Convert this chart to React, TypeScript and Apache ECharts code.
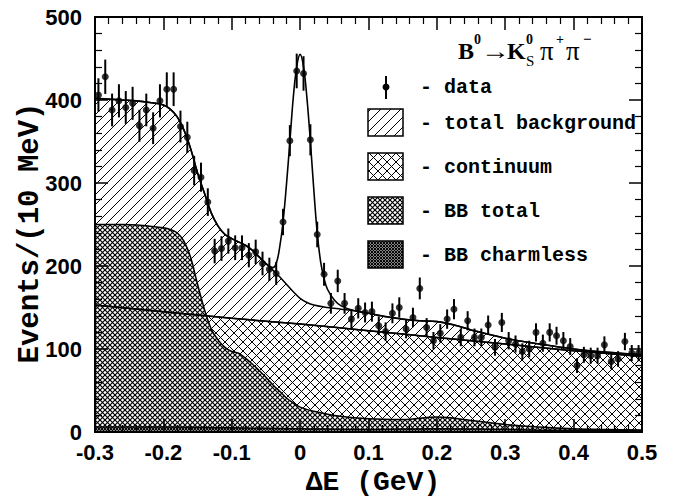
import React, { useEffect, useRef } from 'react';
import * as echarts from 'echarts';

// Histogram: 80 bins of 10 MeV from -0.3 to 0.5 GeV
const binLow = -0.3;
const binWidth = 0.01;
const counts = [
  406, 428, 388, 399, 391, 396, 369, 388, 366, 399,
  413, 413, 368, 355, 315, 307, 277, 218, 221, 230,
  222, 222, 213, 217, 203, 196, 191, 253, 351, 435,
  432, 352, 238, 190, 155, 182, 155, 136, 149, 144,
  145, 128, 121, 143, 150, 124, 138, 173, 126, 110,
  119, 136, 148, 114, 134, 114, 114, 129, 102, 132,
  110, 106, 97, 100, 120, 107, 120, 116, 110, 103,
  80, 93, 92, 92, 105, 85, 88, 109, 95, 95,
];

// Total background curve
const bkgX = [-0.3, -0.28, -0.26, -0.24, -0.22, -0.2, -0.19, -0.18, -0.17, -0.16, -0.15, -0.14, -0.13, -0.12, -0.11, -0.1, -0.09, -0.08, -0.07, -0.06, -0.05, -0.04, -0.03, -0.02, -0.01, 0.0, 0.01, 0.02, 0.04, 0.06, 0.08, 0.1, 0.125, 0.15, 0.175, 0.2, 0.225, 0.25, 0.3, 0.35, 0.4, 0.45, 0.5];
const bkgY = [402, 401, 400, 399, 397, 394, 389, 380, 364, 341, 312, 288, 264, 248, 238, 233, 229, 225, 219, 211, 203, 195, 187, 178, 169, 161, 156, 153, 150, 148, 146, 143, 139, 136, 134, 133, 129, 123, 113, 106, 100, 96, 93];

// Continuum
const contX = [-0.3, -0.2, -0.1, 0.0, 0.1, 0.2, 0.3, 0.4, 0.5];
const contY = [153, 145, 137, 130, 122, 114, 106, 98, 91];

// BB total
const bbX = [-0.3, -0.26, -0.22, -0.2, -0.19, -0.18, -0.17, -0.16, -0.15, -0.14, -0.13, -0.12, -0.11, -0.1, -0.09, -0.08, -0.07, -0.06, -0.05, -0.04, -0.03, -0.02, -0.01, 0.0, 0.02, 0.05, 0.1, 0.15, 0.2, 0.25, 0.3, 0.35, 0.4, 0.45, 0.5];
const bbY = [250, 250, 248, 246, 244, 240, 230, 210, 178, 148, 124, 111, 102, 97, 95, 89, 82, 74, 66, 57, 49, 41, 35, 30, 25, 20, 16, 15, 18, 14, 9, 6, 4, 3, 2];

// BB charmless
const chX = [-0.3, -0.2, -0.1, 0.0, 0.1, 0.2, 0.3, 0.4, 0.5];
const chY = [6, 6, 5, 4, 3, 4, 3, 2, 2];

// Total fit in the signal region (background + signal)
const peakX = [-0.06, -0.05, -0.04, -0.035, -0.03, -0.025, -0.02, -0.015, -0.01, -0.005, 0.0, 0.005, 0.01, 0.015, 0.02, 0.025, 0.03, 0.035, 0.04, 0.05, 0.06, 0.08];
const peakY = [211, 203, 198, 203, 222, 253, 298, 350, 403, 440, 455, 440, 402, 350, 292, 240, 205, 185, 172, 159, 152, 146];

const xTicks = { min: -0.3, max: 0.5, interval: 0.1 };
const yTicks = { min: 0, max: 500, interval: 100 };

const legendItems = ['- total background', '- continuum', '- BB total', '- BB charmless'];

function makePattern(kind: string) {
  const s = kind === 'diag' ? 10 : kind === 'cross' ? 9 : kind === 'dense' ? 5 : 3;
  const c = document.createElement('canvas');
  c.width = s;
  c.height = s;
  const ctx = c.getContext('2d')!;
  ctx.fillStyle = '#fff';
  ctx.fillRect(0, 0, s, s);
  ctx.strokeStyle = '#000';
  ctx.lineWidth = kind === 'dark' ? 1.1 : kind === 'dense' ? 1.15 : 1;
  const seg = (x1: number, y1: number, x2: number, y2: number) => {
    ctx.beginPath();
    ctx.moveTo(x1, y1);
    ctx.lineTo(x2, y2);
    ctx.stroke();
  };
  seg(-1, s + 1, s + 1, -1);
  seg(-1, 1, 1, -1);
  seg(s - 1, s + 1, s + 1, s - 1);
  if (kind !== 'diag') {
    seg(-1, -1, s + 1, s + 1);
    seg(-1, s - 1, 1, s + 1);
    seg(s - 1, -1, s + 1, 1);
  }
  return { image: c.toDataURL(), repeat: 'repeat', imageWidth: s, imageHeight: s };
}

const zip = (xs: number[], ys: number[]) => xs.map((x, i) => [x, ys[i]]);

export default function App() {
  const ref = useRef<HTMLDivElement>(null);
  useEffect(() => {
    document.body.style.margin = '0';
    if (!ref.current) return;
    const chart = echarts.init(ref.current, null, { renderer: 'svg' });
    const pDiag = makePattern('diag');
    const pCross = makePattern('cross');
    const pDense = makePattern('dense');
    const pDark = makePattern('dark');

    const pts = counts.map((n, i) => [binLow + (i + 0.5) * binWidth, n, Math.sqrt(n)]);
    const fitPts = [
      ...zip(bkgX, bkgY).filter((p) => p[0] < peakX[0] - 1e-9),
      ...zip(peakX, peakY),
      ...zip(bkgX, bkgY).filter((p) => p[0] > peakX[peakX.length - 1] + 1e-9),
    ];

    const axisFont = { fontSize: 22, fontWeight: 'bold', fontFamily: '"Liberation Sans", Arial, sans-serif', color: '#000' };
    const fmt = (v: number) => (Math.abs(v) < 1e-9 ? '0' : String(Math.round(v * 10) / 10));
    const mkX = (pos: string, show: boolean) => ({
      type: 'value', position: pos, ...xTicks, z: 10,
      axisLine: { show: true, onZero: false, lineStyle: { color: '#000', width: 2 } },
      axisTick: { show: true, inside: true, length: 13, lineStyle: { color: '#000', width: 1.5 } },
      minorTick: { show: true, splitNumber: 5, length: 7, lineStyle: { color: '#000', width: 1.2 } },
      splitLine: { show: false },
      axisLabel: { show, formatter: fmt, margin: 9, ...axisFont },
    });
    const mkY = (pos: string, show: boolean) => ({
      type: 'value', position: pos, ...yTicks, z: 10,
      axisLine: { show: true, onZero: false, lineStyle: { color: '#000', width: 2 } },
      axisTick: { show: true, inside: true, length: 13, lineStyle: { color: '#000', width: 1.5 } },
      minorTick: { show: true, splitNumber: 5, length: 7, lineStyle: { color: '#000', width: 1.2 } },
      splitLine: { show: false },
      axisLabel: { show, margin: 13, ...axisFont },
    });

    const areaSeries = (name: string, data: number[][], pat: any) => ({
      name, type: 'line', data, smooth: 0.4, symbol: 'none', silent: true, z: 2,
      lineStyle: { color: '#000', width: 1.5 },
      areaStyle: { color: pat, opacity: 1, origin: 'start' },
    });

    const titleFont = '"Liberation Serif", "Times New Roman", serif';
    const legFont = 'bold 20px "Liberation Mono", "Courier New", monospace';
    const legendGraphics: any[] = [];
    const pats = [pDiag, pCross, pDense, pDark];
    legendItems.forEach((t, i) => {
      const cy = 123 + i * 44;
      legendGraphics.push({ type: 'rect', shape: { x: 368, y: cy - 14, width: 35, height: 27 }, style: { fill: pats[i], stroke: '#000', lineWidth: 1.5 } });
      legendGraphics.push({ type: 'text', x: 420, y: cy, style: { text: t, font: legFont, fill: '#000', verticalAlign: 'middle' } });
    });

    const tt = (text: string, x: number, y: number, font: string, sx = 1) => ({
      type: 'text', x, y, scaleX: sx, style: { text, font, fill: '#000', verticalAlign: 'middle' },
    });

    const option: any = {
      animation: false,
      backgroundColor: '#fff',
      grid: { left: 95, right: 31, top: 17, bottom: 68, containLabel: false, outerBoundsMode: 'none' },
      xAxis: [mkX('bottom', true), mkX('top', false)],
      yAxis: [mkY('left', true), mkY('right', false)],
      series: [
        areaSeries('total background', zip(bkgX, bkgY), pDiag),
        areaSeries('continuum', zip(contX, contY), pCross),
        areaSeries('BB total', zip(bbX, bbY), pDense),
        areaSeries('BB charmless', zip(chX, chY), pDark),
        { name: 'continuum line', type: 'line', z: 3, data: zip(contX, contY), smooth: 0.4, symbol: 'none', silent: true, lineStyle: { color: '#000', width: 1.5 } },
        { name: 'fit', type: 'line', z: 4, data: fitPts, smooth: 0.4, symbol: 'none', silent: true, lineStyle: { color: '#000', width: 1.6 } },
        {
          name: 'errors', type: 'custom', z: 5, data: pts, silent: true,
          renderItem: (_p: any, api: any) => {
            const x = api.value(0), y = api.value(1), e = api.value(2);
            const a = api.coord([x, y + e]);
            const b = api.coord([x, y - e]);
            return { type: 'line', shape: { x1: a[0], y1: a[1], x2: b[0], y2: b[1] }, style: { stroke: '#000', lineWidth: 2 } };
          },
        },
        { name: 'data', type: 'scatter', z: 6, data: pts.map((p) => [p[0], p[1]]), symbol: 'circle', symbolSize: 7, silent: true, itemStyle: { color: '#000' } },
      ],
      graphic: [
        { type: 'text', x: 30, y: 233, rotation: Math.PI / 2, style: { text: 'Events/(10 MeV)', font: 'bold 29px "Liberation Mono", "Courier New", monospace', fill: '#000', align: 'center', verticalAlign: 'middle' } },
        { type: 'text', x: 373, y: 482, style: { text: 'ΔE (GeV)', font: 'bold 28px "Liberation Mono", "Courier New", monospace', fill: '#000', align: 'center', verticalAlign: 'middle' } },
        // title B0 -> K0S pi+ pi-
        tt('B', 458, 51, `bold 24px ${titleFont}`),
        tt('0', 474, 39, `bold 14px ${titleFont}`),
        tt('→', 481, 51, `24px ${titleFont}`, 1.2),
        tt('K', 507, 51, `bold 24px ${titleFont}`),
        tt('0', 526, 39, `bold 14px ${titleFont}`),
        tt('S', 526, 61, `15px ${titleFont}`),
        tt('π', 540, 51, `27px ${titleFont}`),
        tt('+', 556, 39, `bold 14px ${titleFont}`),
        tt('π', 566, 51, `27px ${titleFont}`),
        tt('−', 583, 39, `bold 15px ${titleFont}`),
        // legend: data marker
        { type: 'line', shape: { x1: 386, y1: 76, x2: 386, y2: 99 }, style: { stroke: '#000', lineWidth: 2 } },
        { type: 'circle', shape: { cx: 386, cy: 87, r: 3.5 }, style: { fill: '#000' } },
        { type: 'text', x: 420, y: 87, style: { text: '- data', font: legFont, fill: '#000', verticalAlign: 'middle' } },
        ...legendGraphics,
      ],
    };
    chart.setOption(option);
    return () => chart.dispose();
  }, []);
  return <div ref={ref} style={{ width: 673, height: 500 }} />;
}
